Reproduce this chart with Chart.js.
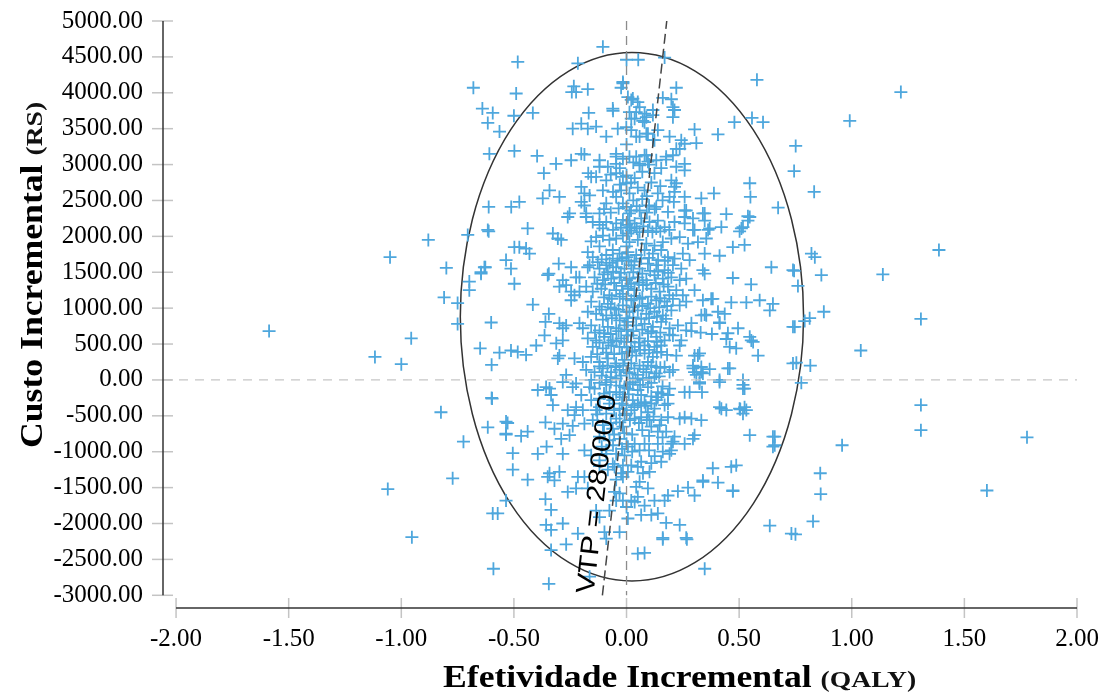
<!DOCTYPE html>
<html>
<head>
<meta charset="utf-8">
<script src="https://cdn.jsdelivr.net/npm/chart.js@4.4.1/dist/chart.umd.min.js"></script>
<style>
  html, body { margin: 0; padding: 0; background: #fff; }
  #wrap { width: 1101px; height: 692px; position: relative; }
</style>
</head>
<body>
<div id="wrap"><canvas id="ce-plane"></canvas></div>
<script>
const X_TICKS = [-2, -1.5, -1, -0.5, 0, 0.5, 1, 1.5, 2];
const Y_TICKS = [-3000, -2500, -2000, -1500, -1000, -500, 0, 500, 1000, 1500, 2000, 2500, 3000, 3500, 4000, 4500, 5000];
const X_MIN = -2.058;
const X_MAX = 2;
const Y_MIN = -3177;
const Y_MAX = 5000;

const WTP = 28000;
const WTP_LABEL = 'VTP = 28000.0';
const ELLIPSE_CENTER = [0.024, 880];
const ELLIPSE_RADII = [0.762, 3680];

const X_TITLE = ['Efetividade Incremental ', '(QALY)'];
const Y_TITLE = ['Custo Incremental ', '(RS)'];

// [incremental effect (QALY), incremental cost]
const icerSamples = [
  [-0.105,4640],[-0.483,4430],[-0.68,4070],[-0.234,4090],[-0.243,4010],[-0.224,4010],[-0.172,4050],[-0.016,4150],
  [-0.024,4070],[0.0,4460],[0.052,4460],[0.169,4490],[0.221,4070],[0.579,4180],[-0.216,4410],[-0.49,3990],[1.218,4010],[-0.016,4130],
  [-0.64,3780],[-0.594,3720],[-0.616,3580],[-0.5,3680],[-0.416,3720],[-0.168,3720],[-0.061,3780],[-0.06,3750],[0.479,3590],
  [0.557,3650],[0.606,3590],[0.991,3610],[0.161,3930],[0.199,3910],[0.206,3800],[0.213,3760],[0.206,3660],[0.117,3760],
  [0.117,3690],[0.006,3940],[0.028,3920],[0.058,3800],[0.043,3730],[0.088,3660],[0.036,3640],[0.072,3610],[-0.239,3500],
  [-0.201,3570],[-0.172,3500],[-0.135,3530],[-0.039,3500],[-0.001,3520],[0.021,3900],[0.05,3870],[0.08,3710],[0.013,3730],
  [0.021,3640],[0.08,3590],
  [-0.564,3460],[-0.609,3150],[-0.498,3190],[-0.397,3120],[-0.313,3010],[0.302,3490],[0.406,3420],[0.751,3260],[-0.09,3390],
  [0.043,3390],[0.088,3430],[0.117,3340],[0.191,3390],[0.243,3340],[0.258,3290],[0.31,3300],[0.236,3220],[-0.201,3150],
  [-0.187,3140],[-0.246,3060],[-0.12,3060],[-0.046,3150],[0.013,3110],[0.058,3010],[0.088,3130],[0.132,3060],[0.176,3070],
  [0.221,3220],[0.206,3130],[0.258,3010],[0.221,2970],[0.021,3480],[0.058,3390],[0.095,3430],[0.124,3340],[0.139,3480],
  [0,3280],[0.043,3110],[0.08,3130],[0.095,3040],[0.058,2990],[0.154,2950],[0.176,3110],[0.258,2920],[0.124,2880],
  [-0.083,2970],[-0.046,3110],[-0.016,3080],[-0.046,3010],
  [-0.367,2880],[0.744,2910],[0.833,2620],[0.547,2740],[0.55,2550],[0.388,2600],[0.332,2530],[-0.17,2880],[-0.157,2830],
  [-0.135,2830],[-0.12,2970],[-0.09,2780],[-0.046,2880],[-0.016,2830],[0,2740],[-0.342,2640],[-0.298,2550],[-0.372,2530],
  [-0.201,2690],[-0.187,2600],[-0.164,2570],[-0.105,2640],[-0.09,2460],[-0.046,2550],[-0.016,2460],[0,2410],[-0.024,2640],
  [0.213,2690],[0.213,2620],[0.199,2780],[0.221,2740],[0.191,2550],[0.139,2600],[0.132,2410],[0.184,2340],[0.258,2550],
  [0.265,2360],[0.347,2320],[0.443,2310],[0.539,2280],[0.673,2400],[0,2850],[0.036,2810],[0.05,2680],[0.013,2600],
  [0.08,2640],[0.1,2430],[0.058,2360],[0.013,2320],[0.11,2750],[0.15,2700],[0.03,2500],[0.07,2520],[0.16,2500],[0.21,2480],
  [-0.201,2480],[-0.187,2430],[-0.253,2320],[-0.179,2320],[-0.12,2320],[-0.612,2410],[-0.512,2410],[-0.476,2480],
  [-0.705,2020],[-0.612,2070],[-0.439,2110],[-0.327,2040],[-0.305,1970],[-0.29,1950],[-0.261,2270],[-0.179,2270],
  [-0.498,1850],[-0.476,1850],[-0.446,1830],[-0.431,1760],[-0.535,1670],[-0.513,1550],[-0.498,1340],[-0.631,1570],
  [-0.646,1480],[-0.698,1370],[-0.698,1250],[-0.75,1070],[-0.75,780],[-0.35,1460],[-0.345,1480],[-0.301,1620],[-0.246,1570],
  [-0.172,1570],[-0.209,1430],[-0.224,1430],[-0.283,1390],[-0.268,1320],[-0.298,1300],[-0.246,1230],[-0.231,1180],
  [-0.209,1230],[-0.246,1110],[-0.416,1050],[-0.345,920],[-0.36,810],[-0.298,790],[-0.283,720],[-0.268,760],[-0.601,800],
  [-0.364,620],[-0.401,480],[-0.312,510],[-0.283,550],[-0.298,340],[-0.305,300],[-0.65,440],[-0.564,380],[-0.513,410],
  [-0.483,390],[-0.446,350],[-0.599,210],[-0.599,-250],[-0.394,-140],[-0.357,-100],[-0.342,-120],[-0.335,-210],[-0.268,70],
  [-0.283,-30],[-0.224,-50],[-0.239,-100],[-0.164,-100],[-0.201,-210],[-0.157,-280],[-0.616,2090],[-0.646,1500],[-0.627,1570],
  [-1.587,680],[-1.117,320],[-1.0,220],[-1.06,-1520],[-1.05,1710],[-0.956,580],[-0.953,-2190],[-0.88,1950],[-0.8,1560],
  [-0.81,1150],[-0.824,-450],[-0.772,-1370],[-0.724,-860],
  [-0.15,2200],[-0.12,2160],[-0.09,2200],[-0.046,2180],[-0.016,2230],[0,2160],[-0.135,1990],[-0.105,2010],[-0.076,1950],
  [-0.046,1970],[-0.016,2010],[0.006,2040],[-0.157,1930],[-0.12,1860],[-0.061,1810],[0,1860],
  [-0.172,1780],[-0.15,1710],[-0.128,1640],[-0.09,1740],[-0.061,1690],[-0.031,1760],[0,1710],[-0.164,1600],[-0.12,1550],
  [-0.083,1500],[-0.046,1570],[-0.009,1550],[-0.142,1430],[-0.105,1390],[-0.068,1410],[-0.031,1430],[0,1390],[-0.09,1600],
  [-0.179,1300],[-0.15,1230],[-0.112,1270],[-0.076,1180],[-0.046,1250],[-0.016,1200],[0.006,1270],[-0.157,1090],[-0.12,1020],
  [-0.083,1060],[-0.053,990],[-0.016,1040],[-0.135,920],[-0.09,900],[-0.046,900],[0,950],[-0.172,950],
  [-0.194,720],[-0.157,760],[-0.12,690],[-0.083,740],[-0.046,720],[-0.009,760],[-0.172,580],[-0.135,550],[-0.098,600],
  [-0.061,550],[-0.024,580],[0.006,620],[-0.15,460],[-0.105,440],[-0.068,480],[-0.031,460],[0,460],[-0.209,790],
  [-0.231,300],[-0.194,250],[-0.157,320],[-0.12,250],[-0.083,300],[-0.046,230],[-0.009,280],[-0.179,140],[-0.142,110],
  [-0.105,160],[-0.068,110],[-0.031,140],[0,110],[-0.157,0],[-0.09,0],[-0.046,20],
  [-0.142,-120],[-0.09,-70],[-0.046,-170],[-0.009,-100],[-0.12,-260],[-0.061,-280],[-0.016,-240],
  [0.006,2220],[0.036,2180],[0.065,2250],[0.102,2200],[0.139,2220],[0.021,2080],[0.058,2060],[0.095,2080],[0.132,2110],
  [0.169,2130],[0.213,2200],[0.258,2180],[0.013,1920],[0.05,1950],[0.088,1900],[0.124,1870],[0.161,1920],[0.199,1970],
  [0.236,1990],[0.273,1900],
  [0.006,1780],[0.043,1740],[0.08,1810],[0.117,1760],[0.154,1810],[0.184,1710],[0.213,1690],[0.25,1760],[0.28,1670],
  [0.021,1600],[0.058,1550],[0.095,1620],[0.132,1600],[0.169,1530],[0.206,1600],[0.243,1550],[0.013,1410],[0.05,1430],
  [0.088,1390],[0.124,1460],[0.161,1410],[0.199,1430],[0.236,1390],[0.265,1410],
  [0.006,1300],[0.036,1250],[0.073,1320],[0.11,1270],[0.147,1230],[0.184,1300],[0.221,1250],[0.25,1180],[0.021,1110],
  [0.058,1130],[0.095,1060],[0.132,1110],[0.169,1090],[0.206,1130],[0.236,1040],[0.265,1090],[0.013,950],[0.05,970],
  [0.088,920],[0.124,950],[0.161,900],[0.199,970],
  [0.006,810],[0.043,760],[0.08,780],[0.117,740],[0.154,810],[0.191,720],[0.228,760],[0.265,690],[0.021,620],[0.058,580],
  [0.095,650],[0.132,600],[0.169,550],[0.206,620],[0.243,550],[0.036,460],[0.08,480],[0.124,460],[0.154,480],
  [0.006,390],[0.043,340],[0.08,370],[0.117,320],[0.154,390],[0.021,230],[0.058,200],[0.095,250],[0.132,180],[0.013,90],
  [0.05,70],[0.088,110],[0.124,40],[0.028,-30],[0.073,0],
  [0.006,-120],[0.05,-140],[0.095,-100],[0.139,-170],[0.184,-210],[0.028,-280],[0.08,-310],[0.132,-280],[0.184,-330],
  [0.539,2220],[0.547,2270],[0.51,2110],[0.517,2130],[0.502,2070],[0.421,2130],[0.369,2110],[0.302,2090],[0.472,1850],
  [0.524,1880],[0.413,1730],[0.347,1760],[0.643,1570],[0.739,1530],[0.472,1420],[0.553,1330],[0.339,1530],[0.347,1480],
  [0.302,1250],[0.339,1110],[0.383,1130],[0.465,1080],[0.532,1080],[0.591,1110],[0.65,1060],[0.636,970],[0.436,920],
  [0.413,800],[0.495,720],[0.347,910],[0.354,900],[0.739,740],[0.288,790],[0.288,680],[0.329,660],[0.379,640],[0.443,570],
  [0.458,460],[0.487,440],[0.547,600],[0.554,550],[0.584,340],[0.236,480],[0.221,340],[0.302,340],[0.324,370],[0.295,160],
  [0.332,180],[0.369,150],[0.31,70],[0.339,90],[0.324,-30],[0.335,-170],[0.45,160],[0.413,0],[0.517,0],[0.517,-120],
  [0.739,230],[0.258,-170],[0.28,-170],[0.191,-120],[0.139,-240],[0.169,180],[0.191,110],[0.206,140],[0.132,90],
  [0.354,1970],[0.362,2090],[0.317,1920],[0.295,2090],[0.258,2360],[0.258,2270],[0.295,2250],[0.339,2320],[0.347,2220],
  [0.406,950],[0.376,1130],[0.332,900],[0.413,790],[0.45,650],
  [1.387,1810],[1.138,1470],[1.04,410],[1.307,850],[0.876,950],[0.821,1760],[0.836,1710],[0.865,1460],[0.761,1310],
  [0.744,1520],[0.791,820],[0.813,860],[0.747,740],[1.778,-800],[1.6,-1540],[1.307,-350],[1.307,-700],[0.957,-910],
  [0.86,-1300],[0.862,-1590],[0.828,-1970],[0.75,-2150],[0.636,-2030],[0.776,-40],[0.754,240],[0.816,200],[0.65,-790],
  [0.65,-930],[0.472,-1550],[0.236,-2020],[0.268,-2220],[0.161,-2220],
  [-0.616,-660],[-0.528,-600],[-0.535,-760],[-0.468,-780],[-0.439,-720],[-0.505,-1020],[-0.505,-1250],[-0.439,-1390],
  [-0.36,-590],[-0.32,-680],[-0.355,-930],[-0.394,-1030],[-0.283,-610],[-0.29,-820],[-0.253,-770],[-0.239,-640],[-0.187,-610],
  [-0.327,-350],[-0.261,-420],[-0.224,-380],[-0.194,-420],[-0.231,-490],[-0.283,-1030],[-0.342,-1300],[-0.298,-1280],
  [-0.32,-1400],[-0.35,-1350],[-0.261,-1560],[-0.224,-1510],[-0.216,-1350],[-0.187,-1350],[-0.172,-1510],[-0.187,-980],
  [-0.157,-1050],[-0.12,-1120],[-0.09,-1030],[-0.535,-1680],[-0.594,-1860],[-0.572,-1860],[-0.36,-1660],[-0.335,-1810],
  [-0.283,-2000],[-0.357,-2020],[-0.335,-2090],[-0.216,-2140],[-0.268,-2290],[-0.335,-2370],[-0.591,-2630],[-0.345,-2840],
  [-0.164,-2740],[-0.135,-1820],[-0.12,-1910],[-0.098,-2120],[-0.09,-2210],[-0.031,-2120],[-0.076,-1820],[-0.046,-1680],
  [-0.016,-1680],[0.0,-1770],[-0.031,-1580],[-0.053,-1560],[-0.12,-1200],[-0.083,-1250],[-0.046,-1390],[-0.016,-1350],
  [-0.053,-1210],[-0.024,-1300],[-0.535,-580],[-0.535,-750],[-0.597,-260],
  [-0.12,-380],[-0.076,-330],[-0.031,-400],[0,-350],[-0.09,-470],[-0.046,-540],[-0.009,-490],[-0.15,-560],[-0.105,-630],
  [-0.061,-680],[-0.016,-650],[-0.12,-790],[-0.076,-840],[-0.031,-820],[0,-890],[-0.09,-980],[-0.046,-1030],[-0.009,-1050],
  [-0.061,-1170],[-0.016,-1190],
  [0.413,-380],[0.443,-420],[0.502,-400],[0.524,-380],[0.517,-470],[0.332,-560],[0.288,-540],[0.258,-520],[0.236,-540],
  [0.547,-770],[0.658,-790],[0.658,-910],[0.302,-770],[0.295,-820],[0.258,-890],[0.206,-860],[0.199,-980],[0.383,-1230],
  [0.465,-1210],[0.487,-1190],[0.339,-1400],[0.339,-1420],[0.406,-1430],[0.472,-1540],[0.184,-1610],[0.228,-1550],
  [0.273,-1500],[0.302,-1610],[0.176,-1990],[0.161,-2200],[0.265,-2200],[0.05,-2420],[0.08,-2410],[0.347,-2630],
  [0.732,-2140],[0.124,-1680],[0.139,-1860],[0.11,-1880],[0.065,-1880],[0.169,-1680],[0.006,-1930],[0.08,-1750],
  [0.036,-1700],[0.021,-1680],[0.05,-1630],[0.043,-1490],[0.095,-1510],[0.058,-1420],[0.073,-1300],[0.102,-1280],
  [0.05,-1210],[0.021,-1190],[0.006,-1280],[0.065,-1140],[0.11,-1160],[0.154,-1140],[0.161,-1000],[0.191,-1030],
  [0.199,-890],[0.139,-890],[0.08,-890],[0.058,-980],[0.036,-890],[0.006,-930],[0.139,-720],[0.11,-650],[0.102,-560],
  [0.154,-560],[0.184,-520],[0.213,-790],[0.176,-720],[0.021,-420],[0.05,-330],[0,-470],[0.036,-540],[0.065,-520],
  [0.065,-350],[0.124,-400],[0.169,-350],[0.095,-450],[0.147,-630],
  [0.517,-70],[0.524,-120],[0.505,-410],[0.532,-420],[0.421,-400],[0.413,-30],[0.458,160],[0.562,530],[0.317,340],
  [0.295,200],[0.332,110],[0.302,110],[0.324,-50],
  // dense core, between the rows above
  [-0.1,2380],[-0.07,2330],[-0.035,2390],[0.02,2360],[0.045,2420],[0.09,2330],[0.125,2380],
  [-0.105,2110],[-0.06,2090],[-0.025,2120],[0.015,2130],[0.045,2110],[0.075,2140],[0.115,2060],[0.15,2070],[0.19,2090],
  [-0.11,1680],[-0.075,1630],[-0.04,1660],[-0.02,1690],[0.01,1660],[0.035,1650],[0.065,1690],[0.1,1700],[0.14,1670],[0.17,1660],
  [-0.1,1470],[-0.06,1510],[-0.025,1490],[0.03,1500],[0.07,1480],[0.105,1520],[0.14,1510],[0.185,1490],
  [-0.13,1340],[-0.095,1330],[-0.055,1350],[-0.02,1310],[0.02,1340],[0.055,1360],[0.09,1330],[0.13,1350],[0.165,1330],
  [-0.1,1150],[-0.065,1130],[-0.03,1160],[0.0,1130],[0.035,1170],[0.07,1150],[0.11,1160],[0.15,1140],[0.19,1180],
  [-0.11,980],[-0.07,1010],[-0.035,980],[0.03,1010],[0.07,1030],[0.105,1000],[0.145,1010],[0.18,1030],
  [-0.105,840],[-0.065,860],[-0.03,830],[0.0,860],[0.03,870],[0.065,850],[0.1,860],[0.135,880],[0.175,850],
  [-0.14,660],[-0.1,650],[-0.07,640],[-0.035,680],[0.0,700],[0.03,680],[0.07,700],[0.11,680],[0.15,660],[0.19,630],
  [-0.12,520],[-0.08,520],[-0.045,540],[-0.01,530],[0.02,530],[0.055,520],[0.095,540],[0.135,530],
  [-0.13,360],[-0.09,380],[-0.055,360],[-0.02,370],[0.025,400],[0.06,420],[0.1,420],[0.135,380],[0.18,350],
  [-0.12,190],[-0.085,200],[-0.05,180],[-0.015,200],[0.035,160],[0.075,150],[0.11,200],[0.15,170],
  [-0.11,60],[-0.07,40],[-0.025,60],[0.04,20],[0.1,30],[0.145,50],
  [-0.12,-40],[-0.07,-30],[-0.03,-80],[0.015,-60],[0.06,-70],[0.11,-40],[0.16,-90],
  [-0.1,-190],[-0.075,-170],[-0.03,-200],[0.01,-200],[0.065,-210],[0.11,-230],[0.155,-190],
  [-0.135,-420],[-0.055,-420],[-0.02,-330],[0.035,-380],[0.085,-360],[0.11,-330],
  [-0.13,-480],[-0.07,-600],[-0.03,-590],[0.015,-560],[0.055,-600],[0.09,-560],[0.12,-510],
  [-0.1,-730],[-0.055,-760],[-0.01,-740],[0.025,-760],[0.07,-700],[0.1,-780],[0.16,-800],
  [-0.11,-930],[-0.06,-910],[-0.02,-960],[0.025,-1000],[0.1,-980],[0.125,-1060],
  [-0.03,2950],[0.03,3030],[0.07,2900],[0.1,3000],[-0.07,2860],[0.02,2750],[0.09,2560],[-0.06,2620],[-0.03,2720]
];

const SERIF = "'Liberation Serif', 'Times New Roman', serif";
const SANS = "'Liberation Sans', Arial, sans-serif";
const TEXT_STRETCH = 1.15;

function drawStretchedText(ctx, parts, x, y, angle) {
  ctx.save();
  ctx.translate(x, y);
  ctx.rotate(angle);
  ctx.scale(TEXT_STRETCH, 1);
  ctx.textBaseline = 'alphabetic';
  ctx.textAlign = 'left';
  let pos = 0;
  parts.forEach(p => {
    ctx.font = p.font;
    ctx.fillStyle = p.color || '#000';
    ctx.fillText(p.text, pos, 0);
    pos += ctx.measureText(p.text).width;
  });
  ctx.restore();
}

const planeDecor = {
  id: 'planeDecor',
  beforeDatasetsDraw(chart) {
    const ctx = chart.ctx;
    const xs = chart.scales.x, ys = chart.scales.y;
    const cx = xs.getPixelForValue(ELLIPSE_CENTER[0]);
    const cy = ys.getPixelForValue(ELLIPSE_CENTER[1]);
    const rx = Math.abs(xs.getPixelForValue(ELLIPSE_CENTER[0] + ELLIPSE_RADII[0]) - cx);
    const ry = Math.abs(ys.getPixelForValue(ELLIPSE_CENTER[1] + ELLIPSE_RADII[1]) - cy);
    ctx.save();
    ctx.beginPath();
    ctx.ellipse(cx, cy, rx, ry, 0, 0, Math.PI * 2);
    ctx.strokeStyle = '#333';
    ctx.lineWidth = 1.5;
    ctx.stroke();
    ctx.restore();
  },
  afterDraw(chart) {
    const ctx = chart.ctx;
    const xs = chart.scales.x, ys = chart.scales.y;
    const area = chart.chartArea;

    ctx.save();
    // tick marks
    ctx.strokeStyle = '#c4c4c4';
    ctx.lineWidth = 1.5;
    Y_TICKS.forEach(v => {
      const py = ys.getPixelForValue(v);
      ctx.beginPath();
      ctx.moveTo(area.left - 11, py);
      ctx.lineTo(area.left + 10, py);
      ctx.stroke();
    });
    X_TICKS.forEach(v => {
      const px = xs.getPixelForValue(v);
      ctx.beginPath();
      ctx.moveTo(px, area.bottom - 10);
      ctx.lineTo(px, area.bottom + 10);
      ctx.stroke();
    });
    // axis lines
    ctx.strokeStyle = '#333';
    ctx.lineWidth = 1.5;
    ctx.beginPath();
    ctx.moveTo(area.left, ys.getPixelForValue(Y_TICKS[Y_TICKS.length - 1]));
    ctx.lineTo(area.left, ys.getPixelForValue(Y_TICKS[0]));
    ctx.stroke();
    ctx.beginPath();
    ctx.moveTo(xs.getPixelForValue(X_TICKS[0]), area.bottom);
    ctx.lineTo(xs.getPixelForValue(X_TICKS[X_TICKS.length - 1]), area.bottom);
    ctx.stroke();
    ctx.restore();

    // WTP label along the threshold line
    const p1x = xs.getPixelForValue(Y_TICKS[0] / WTP), p1y = ys.getPixelForValue(Y_TICKS[0]);
    const p2x = xs.getPixelForValue(Y_MAX / WTP), p2y = ys.getPixelForValue(Y_MAX);
    const ang = Math.atan2(p2y - p1y, p2x - p1x);
    ctx.save();
    ctx.translate(p1x, p1y);
    ctx.rotate(ang);
    ctx.scale(TEXT_STRETCH, 1);
    ctx.font = '26px ' + SANS;
    ctx.fillStyle = '#000';
    ctx.textBaseline = 'alphabetic';
    ctx.fillText(WTP_LABEL, 0, -9);
    ctx.restore();

    // axis titles
    drawStretchedText(ctx, [
      { text: X_TITLE[0], font: 'bold 31px ' + SERIF },
      { text: X_TITLE[1], font: 'bold 24px ' + SERIF, color: '#111' }
    ], 443, 687, 0);
    drawStretchedText(ctx, [
      { text: Y_TITLE[0], font: 'bold 31px ' + SERIF },
      { text: Y_TITLE[1], font: 'bold 24px ' + SERIF, color: '#111' }
    ], 42, 448, -Math.PI / 2);
  }
};

const points = icerSamples.map(p => ({ x: p[0], y: p[1] }));

const config = {
  type: 'scatter',
  data: {
    datasets: [
      {
        label: 'Simulações',
        data: points,
        pointStyle: 'cross',
        pointRadius: 6.5,
        pointBorderWidth: 1.8,
        borderColor: '#4ea7dd',
        backgroundColor: '#4ea7dd',
        order: 2
      },
      {
        label: 'zero custo',
        data: [{ x: X_MIN, y: 0 }, { x: X_MAX, y: 0 }],
        showLine: true,
        borderColor: '#c6c6c6',
        borderWidth: 1.3,
        borderDash: [9, 7],
        pointRadius: 0,
        order: 1
      },
      {
        label: 'zero efeito',
        data: [{ x: 0, y: Y_MAX }, { x: 0, y: Y_TICKS[0] }],
        showLine: true,
        borderColor: '#8c8c8c',
        borderWidth: 1.3,
        borderDash: [9, 6],
        pointRadius: 0,
        order: 0
      },
      {
        label: 'VTP',
        data: [{ x: Y_TICKS[0] / WTP, y: Y_TICKS[0] }, { x: Y_MAX / WTP, y: Y_MAX }],
        showLine: true,
        borderColor: '#444',
        borderWidth: 1.5,
        borderDash: [10, 5],
        pointRadius: 0,
        order: 0
      }
    ]
  },
  options: {
    responsive: true,
    maintainAspectRatio: false,
    animation: false,
    events: [],
    layout: { autoPadding: false, padding: { left: 43, right: 24, top: 21, bottom: 0 } },
    plugins: {
      legend: { display: false },
      tooltip: { enabled: false }
    },
    scales: {
      x: {
        type: 'linear',
        min: X_MIN,
        max: X_MAX,
        grid: { display: false, drawTicks: false },
        border: { display: false },
        afterBuildTicks: (scale) => { scale.ticks = X_TICKS.map(v => ({ value: v })); },
        afterFit: (scale) => {
          scale.height = 84;
          scale.paddingLeft = 0;
          scale.paddingRight = 0;
        },
        ticks: {
          padding: 16,
          color: '#000',
          font: { family: SERIF, size: 25 },
          callback: (v) => Number(v).toFixed(2)
        }
      },
      y: {
        type: 'linear',
        min: Y_MIN,
        max: Y_MAX,
        grid: { display: false, drawTicks: false },
        border: { display: false },
        afterBuildTicks: (scale) => { scale.ticks = Y_TICKS.map(v => ({ value: v })); },
        afterFit: (scale) => {
          scale.width = 120;
          scale.paddingTop = 0;
          scale.paddingBottom = 0;
        },
        ticks: {
          padding: 20,
          color: '#000',
          font: { family: SERIF, size: 25 },
          callback: (v) => Number(v).toFixed(2)
        }
      }
    }
  },
  plugins: [planeDecor]
};

new Chart(document.getElementById('ce-plane'), config);
</script>
</body>
</html>
